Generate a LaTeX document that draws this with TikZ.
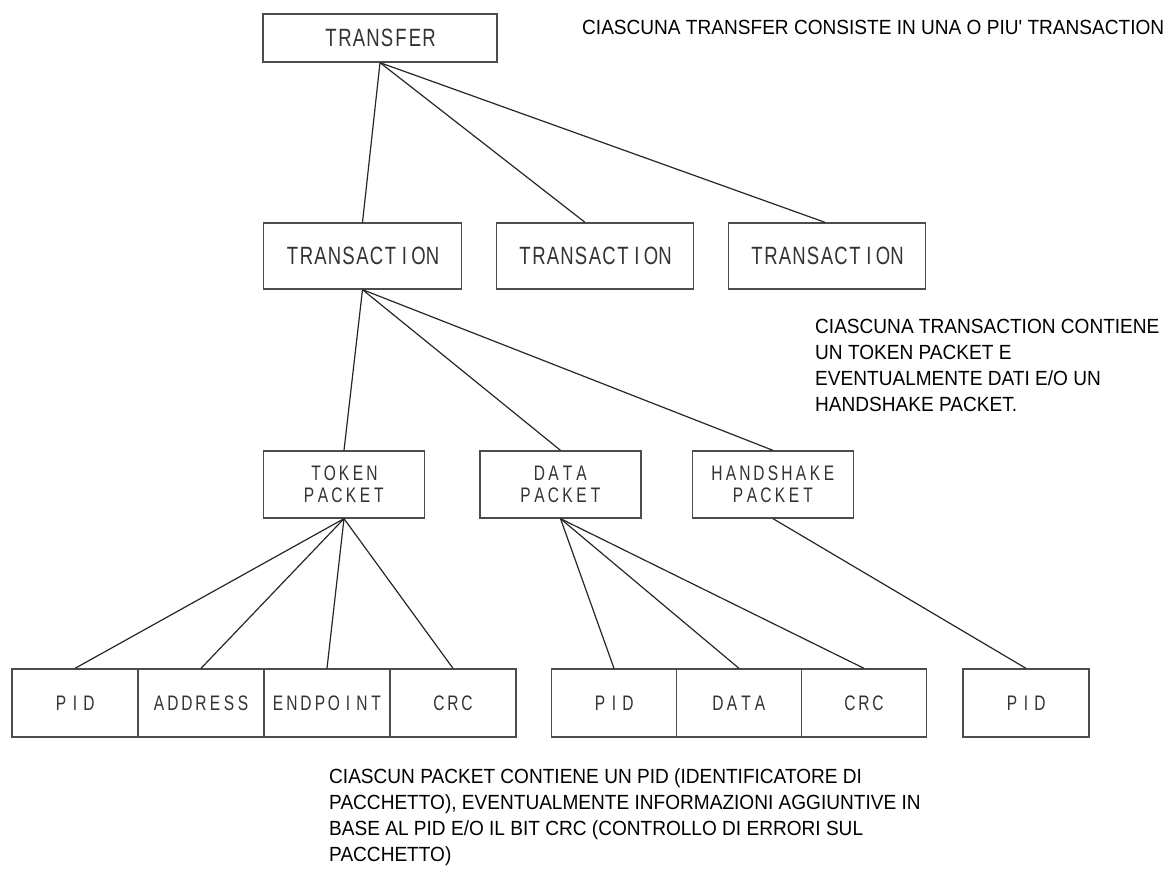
\documentclass[tikz,border=0pt]{standalone}
\usepackage{fontspec}
\setmainfont{Liberation Sans}
% narrow stroke-like lettering for the box labels
\newfontfamily\cadfont[FakeStretch=0.74]{Liberation Sans}
% slightly condensed face for the notes
\newfontfamily\notefont[FakeStretch=0.93]{Liberation Sans}
\definecolor{labelink}{gray}{0.2}
\definecolor{edge}{gray}{0.3}
\definecolor{wire}{gray}{0.15}
% set a word on a fixed character pitch, like a plotter font
\makeatletter
\newcommand\cadword[1]{\@tfor\cad@ch:=#1\do{\makebox[14pt]{\cad@ch}}}
\makeatother

\begin{document}
\begin{tikzpicture}[x=1pt,y=-1pt,
  box/.style={draw=edge, line width=1.3pt, fill=white, inner sep=0pt, text=labelink},
  big/.style={box, font=\cadfont\fontsize{25}{28}\selectfont},
  small/.style={box, font=\cadfont\fontsize{21}{22}\selectfont, align=center},
  packet/.style={small, minimum width=161pt, minimum height=67pt},
  cell/.style={small, minimum width=126pt, minimum height=68pt},
  link/.style={draw=wire, line width=1.2pt},
  note/.style={font=\notefont\fontsize{20.5}{26}\selectfont, align=left, anchor=north west, inner sep=0pt}]

\useasboundingbox (0,0) rectangle (1173,871);

% level 1
\node[big, minimum width=234pt, minimum height=48pt] (transfer) at (380,38) {\cadword{TRANSFER}};

% level 2
\node[big, minimum width=198pt, minimum height=66pt] (ta) at (362.5,256) {\cadword{TRANSACTION}};
\node[big, minimum width=197pt, minimum height=66pt] (tb) at (595,256) {\cadword{TRANSACTION}};
\node[big, minimum width=197pt, minimum height=66pt] (tc) at (827,256) {\cadword{TRANSACTION}};

% level 3
\node[packet] (tok) at (344,484.5) {\cadword{TOKEN}\\\cadword{PACKET}};
\node[packet] (dat) at (560.5,484.5) {\cadword{DATA}\\\cadword{PACKET}};
\node[packet] (hs) at (773,484.5) {\cadword{HANDSHAKE}\\\cadword{PACKET}};

% level 4: packet fields
\node[cell] (tpid) at (75,703) {\cadword{PID}};
\node[cell] (taddr) at (201,703) {\cadword{ADDRESS}};
\node[cell] (tend) at (327,703) {\cadword{ENDPOINT}};
\node[cell] (tcrc) at (453,703) {\cadword{CRC}};

\node[cell, minimum width=125pt] (dpid) at (614,703) {\cadword{PID}};
\node[cell, minimum width=125pt] (ddata) at (739,703) {\cadword{DATA}};
\node[cell, minimum width=125pt] (dcrc) at (864,703) {\cadword{CRC}};

\node[cell] (hpid) at (1026,703) {\cadword{PID}};

% connectors
\draw[link] (transfer.south) -- (ta.north);
\draw[link] (transfer.south) -- ([xshift=-10pt]tb.north);
\draw[link] (transfer.south) -- ([xshift=-2pt]tc.north);

\draw[link] (ta.south) -- (tok.north);
\draw[link] (ta.south) -- (dat.north);
\draw[link] (ta.south) -- (hs.north);

\draw[link] (tok.south) -- (tpid.north);
\draw[link] (tok.south) -- (taddr.north);
\draw[link] (tok.south) -- (tend.north);
\draw[link] (tok.south) -- (tcrc.north);

\draw[link] (dat.south) -- (dpid.north);
\draw[link] (dat.south) -- (ddata.north);
\draw[link] (dat.south) -- (dcrc.north);

\draw[link] (hs.south) -- (hpid.north);

% notes
\node[note] (n1) at (582,20) {CIASCUNA TRANSFER CONSISTE IN UNA O PIU{\char"27} TRANSACTION};
\node[note] (n2) at (815,319) {CIASCUNA TRANSACTION CONTIENE\\UN TOKEN PACKET E\\EVENTUALMENTE DATI E/O UN\\HANDSHAKE PACKET.};
\node[note] (n3) at (329,768) {CIASCUN PACKET CONTIENE UN PID (IDENTIFICATORE DI\\PACCHETTO), EVENTUALMENTE INFORMAZIONI AGGIUNTIVE IN\\BASE AL PID E/O IL BIT CRC (CONTROLLO DI ERRORI SUL\\PACCHETTO)};
\end{tikzpicture}
\end{document}
